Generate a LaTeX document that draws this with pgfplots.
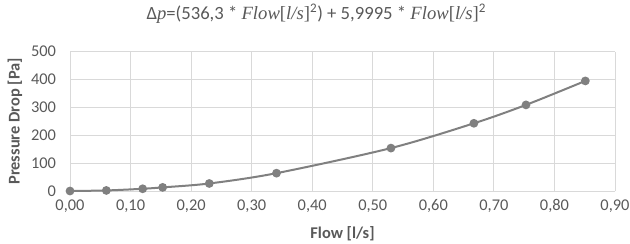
\documentclass[border=0pt]{standalone}
\usepackage{pgfplots}
\pgfplotsset{compat=1.18}
\usepackage{fontspec}
\setmainfont{Carlito}
\newfontfamily\cambria{Liberation Serif}
\definecolor{gridgray}{HTML}{D9D9D9}
\definecolor{txtgray}{HTML}{595959}
\definecolor{markgray}{HTML}{808080}
\begin{document}
\begin{tikzpicture}
\path[use as bounding box] (-52.5pt,-39pt) rectangle (420pt,143.25pt);
\begin{axis}[
  scale only axis,
  width=408.75pt, height=104.5pt,
  xmin=0, xmax=0.9, ymin=0, ymax=500,
  xtick={0,0.1,0.2,0.3,0.4,0.5,0.6,0.7,0.8,0.9},
  ytick={0,100,200,300,400,500},
  grid=major,
  grid style={draw=gridgray, line width=0.75pt},
  axis line style={draw=none},
  major tick length=0pt,
  tick label style={font=\fontsize{12.3pt}{14pt}\selectfont, text=txtgray},
  /pgf/number format/assume math mode=true,
  xticklabel style={/pgf/number format/.cd, use comma, fixed, fixed zerofill, precision=2},
  yticklabel style={/pgf/number format/.cd, fixed, precision=0},
  xticklabel shift=3pt,
  yticklabel shift=7pt,
  xlabel={Flow [l/s]},
  ylabel={Pressure Drop [Pa]},
  label style={font=\bfseries\fontsize{12.3pt}{14pt}\selectfont, text=txtgray},
  xlabel style={at={(0.5,-0.31)}, anchor=center},
  ylabel style={at={(-0.101,0.5)}, anchor=center, rotate=0},
  title={Δ{\cambria\itshape p}=(536,3 * {\cambria\itshape Flow}{\cambria[}{\cambria\itshape l/s}{\cambria]}\textsuperscript{2}) + 5,9995 * {\cambria\itshape Flow}{\cambria[}{\cambria\itshape l/s}{\cambria]}\textsuperscript{2}},
  title style={at={(0.452,1.213)}, anchor=center, font=\fontsize{14pt}{16pt}\selectfont, text=txtgray},
  clip=false,
]
\addplot[smooth, color=markgray, line width=1.5pt, mark=*, mark size=2.5pt, mark options={fill=markgray, draw=markgray}]
coordinates {
(0,0) (0.06,2) (0.12,8) (0.153,13) (0.23,27) (0.341,64) (0.53,154) (0.667,243) (0.753,309) (0.851,395)
};
\end{axis}
\end{tikzpicture}
\end{document}
